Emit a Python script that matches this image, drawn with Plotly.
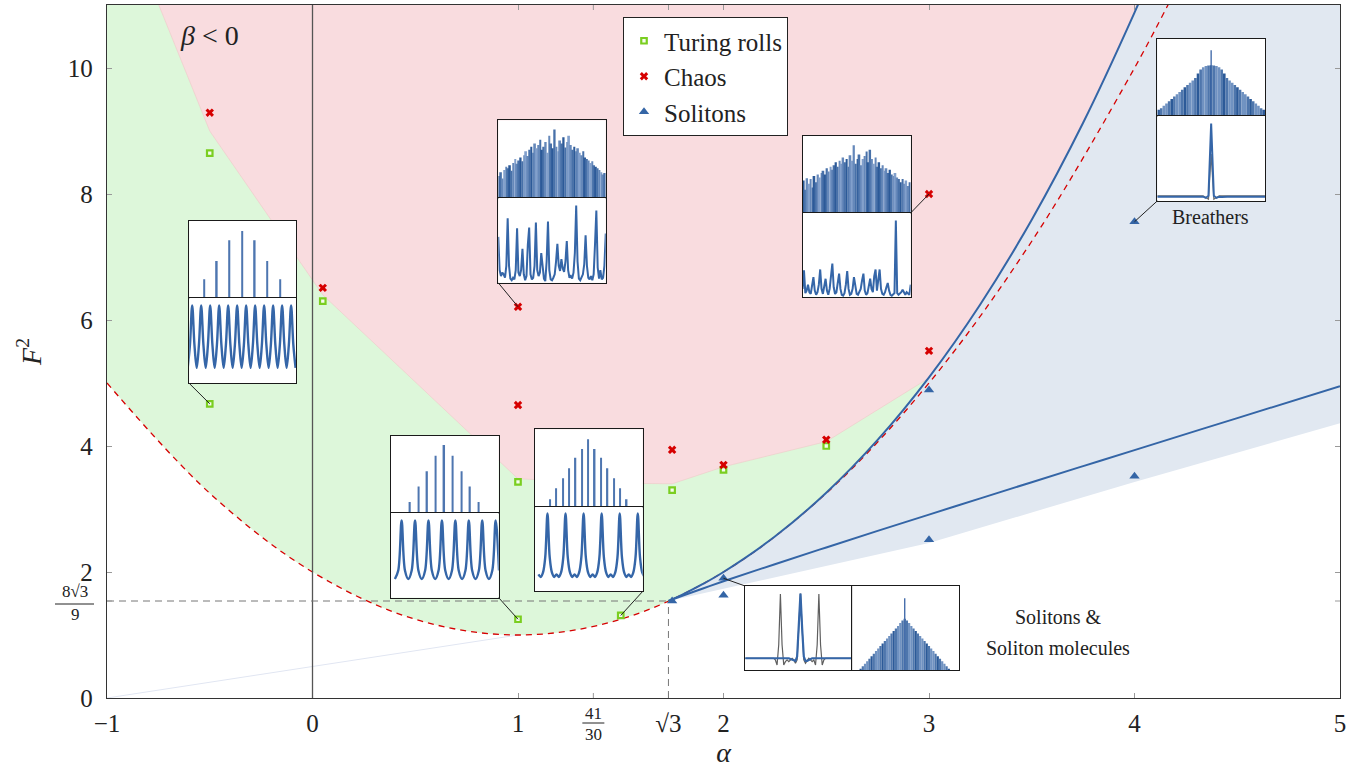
import math
import plotly.graph_objects as go

# ---------------- main data ----------------
turing_alpha = [-0.5, -0.5, 0.05, 1.0, 1.0, 1.5, 1.75, 2.0, 2.5]
turing_F2 = [8.65, 4.67, 6.30, 3.43, 1.25, 1.31, 3.30, 3.62, 4.00]
chaos_alpha = [-0.5, 0.05, 1.0, 1.0, 1.75, 2.0, 2.5, 3.0, 3.0]
chaos_F2 = [9.29, 6.51, 6.21, 4.65, 3.94, 3.70, 4.10, 8.00, 5.51]
soliton_alpha = [1.75, 2.0, 2.0, 3.0, 3.0, 4.0, 4.0]
soliton_F2 = [1.54, 1.90, 1.63, 2.51, 4.89, 7.56, 3.52]

# red dashed threshold curve
parab_alpha = [-1.0, -0.5, 0.0, 0.5, 1.0, 1.5, 2.0, 2.5, 3.0, 3.5, 4.0, 4.2]
parab_F2 = [5.0, 3.25, 2.0, 1.25, 1.0, 1.25, 2.0, 3.25, 5.0, 7.25, 10.0, 11.24]
# blue solid bistability curves
upper_alpha = [1.732, 1.75, 1.8, 1.9, 2.0, 2.25, 2.5, 2.75, 3.0, 3.25, 3.5, 3.75, 4.0, 4.1]
upper_F2 = [1.540, 1.565, 1.641, 1.810, 2.000, 2.563, 3.258, 4.096, 5.089, 6.250, 7.593, 9.132, 10.880, 11.640]
lower_alpha = [1.732, 1.75, 1.8, 1.9, 2.0, 2.25, 2.5, 2.75, 3.0, 3.25, 3.5, 3.75, 4.0, 4.5, 5.0]
lower_F2 = [1.540, 1.563, 1.623, 1.739, 1.852, 2.124, 2.390, 2.652, 2.911, 3.169, 3.425, 3.681, 3.935, 4.443, 4.949]
# region boundaries
chaos_edge_alpha = [-0.748, -0.5, 0.05, 1.0, 1.5, 1.75, 2.0, 2.5, 3.0]
chaos_edge_F2 = [11.0, 9.0, 6.4, 3.48, 3.41, 3.40, 3.67, 4.07, 5.08]
shade_alpha = [1.732, 3.0, 4.0, 5.0]
shade_F2 = [1.54, 2.46, 3.43, 4.36]
faint_alpha = [-1.0, 1.0]
faint_F2 = [0.0, 1.0]

CUSP_A = math.sqrt(3)
CUSP_F = 8 * math.sqrt(3) / 9
x_tickvals = [-1, 0, 1, CUSP_A, 2, 3, 4, 5]
x_ticktext = ["−1", "0", "1", "√3", "2", "3", "4", "5"]
y_tickvals = [0, 2, 4, 6, 8, 10]
y_ticktext = ["0", "2", "4", "6", "8", "10"]
x_frac_tick = 41 / 30
x_frac_parts = ["41", "30"]
y_frac_tick = CUSP_F
y_frac_parts = ["8√3", "9"]

# ---------------- inset data ----------------
A_mode = [-3, -2, -1, 0, 1, 2, 3]
A_amp = [0.24, 0.48, 0.75, 0.87, 0.75, 0.48, 0.24]
A_wave = [0.18, 0.45, 0.91, 0.45, 0.18, 0.45, 0.91, 0.45, 0.18, 0.45, 0.91, 0.45,
          0.18, 0.45, 0.91, 0.45, 0.18, 0.45, 0.91, 0.45, 0.18, 0.45, 0.91, 0.45,
          0.18, 0.45, 0.91, 0.45, 0.18, 0.45, 0.91, 0.45, 0.18, 0.45, 0.91, 0.45,
          0.18, 0.45, 0.91, 0.45, 0.18, 0.45, 0.91, 0.45, 0.18, 0.45, 0.91, 0.45, 0.18]

B_mode = [-4, -3, -2, -1, 0, 1, 2, 3, 4]
B_amp = [0.14, 0.34, 0.54, 0.74, 0.88, 0.74, 0.54, 0.34, 0.14]
B_wave = [0.22, 0.32, 0.91, 0.32, 0.22, 0.32, 0.91, 0.32, 0.22, 0.32, 0.91, 0.32,
          0.22, 0.32, 0.91, 0.32, 0.22, 0.32, 0.91, 0.32, 0.22, 0.32, 0.91, 0.32,
          0.22, 0.32, 0.91, 0.32, 0.22, 0.32, 0.91, 0.32]

C_mode = [-6, -5, -4, -3, -2, -1, 0, 1, 2, 3, 4, 5, 6]
C_amp = [0.095, 0.237, 0.366, 0.496, 0.634, 0.746, 0.871, 0.746, 0.634, 0.496, 0.366, 0.237, 0.095]
C_wave = [0.20, 0.17, 0.22, 0.40, 0.92, 0.40, 0.22, 0.17, 0.20, 0.17, 0.22, 0.40, 0.92, 0.40, 0.22, 0.17,
          0.20, 0.17, 0.22, 0.40, 0.92, 0.40, 0.22, 0.17, 0.20, 0.17, 0.22, 0.40, 0.92, 0.40, 0.22, 0.17,
          0.20, 0.17, 0.22, 0.40, 0.92, 0.40, 0.22, 0.17, 0.20, 0.17, 0.22, 0.40, 0.92, 0.40, 0.22, 0.17]

D_spec = [0.28, 0.33, 0.25, 0.36, 0.40, 0.38, 0.42, 0.35, 0.45, 0.50, 0.44, 0.48, 0.52, 0.47, 0.55,
          0.60, 0.54, 0.62, 0.66, 0.58, 0.70, 0.64, 0.68, 0.75, 0.62, 0.66, 0.72, 0.58, 0.80, 0.70,
          0.64, 0.88, 0.66, 0.60, 0.74, 0.70, 0.78, 0.65, 0.72, 0.80, 0.68, 0.62, 0.66, 0.60, 0.64,
          0.58, 0.55, 0.60, 0.52, 0.50, 0.48, 0.45, 0.47, 0.42, 0.40, 0.38, 0.36, 0.33, 0.30, 0.32]
D_wave = [0.54, 0.15, 0.08, 0.12, 0.10, 0.06, 0.20, 0.76, 0.20, 0.05, 0.03, 0.06, 0.04, 0.15, 0.64,
          0.12, 0.08, 0.15, 0.40, 0.10, 0.03, 0.08, 0.45, 0.65, 0.10, 0.04, 0.06, 0.20, 0.71, 0.15,
          0.08, 0.12, 0.35, 0.18, 0.05, 0.02, 0.25, 0.72, 0.15, 0.04, 0.03, 0.06, 0.10, 0.25, 0.46,
          0.20, 0.14, 0.28, 0.17, 0.13, 0.25, 0.49, 0.15, 0.06, 0.08, 0.05, 0.12, 0.35, 0.91, 0.25,
          0.05, 0.03, 0.06, 0.10, 0.22, 0.56, 0.20, 0.06, 0.04, 0.08, 0.03, 0.10, 0.45, 0.85, 0.18,
          0.05, 0.15, 0.04, 0.06, 0.20, 0.58]

E_spec = [0.42, 0.30, 0.45, 0.38, 0.44, 0.33, 0.48, 0.40, 0.50, 0.46, 0.52, 0.55, 0.50, 0.58, 0.54,
          0.60, 0.56, 0.62, 0.66, 0.60, 0.68, 0.64, 0.72, 0.66, 0.70, 0.60, 0.75, 0.68, 0.88, 0.64,
          0.70, 0.76, 0.62, 0.70, 0.74, 0.80, 0.66, 0.82, 0.70, 0.64, 0.72, 0.60, 0.66, 0.58, 0.62,
          0.55, 0.58, 0.52, 0.56, 0.50, 0.48, 0.52, 0.46, 0.44, 0.40, 0.44, 0.38, 0.42, 0.35, 0.40]
E_wave = [0.10, 0.32, 0.05, 0.08, 0.15, 0.06, 0.04, 0.12, 0.24, 0.08, 0.03, 0.06, 0.15, 0.33, 0.10,
          0.04, 0.12, 0.22, 0.08, 0.03, 0.10, 0.30, 0.40, 0.12, 0.04, 0.06, 0.18, 0.28, 0.10, 0.03,
          0.02, 0.05, 0.15, 0.31, 0.10, 0.03, 0.04, 0.10, 0.24, 0.12, 0.04, 0.03, 0.06, 0.10, 0.20,
          0.28, 0.08, 0.03, 0.05, 0.12, 0.22, 0.10, 0.06, 0.25, 0.33, 0.08, 0.20, 0.33, 0.10, 0.04,
          0.03, 0.06, 0.12, 0.17, 0.08, 0.03, 0.02, 0.03, 0.05, 0.91, 0.05, 0.03, 0.04, 0.06, 0.09,
          0.05, 0.03, 0.06, 0.04, 0.03, 0.15]

F_spec = [0.08, 0.10, 0.13, 0.16, 0.19, 0.22, 0.25, 0.28, 0.31, 0.34, 0.37, 0.40, 0.43, 0.46, 0.49,
          0.55, 0.60, 0.63, 0.645, 0.652, 0.655, 0.652, 0.645, 0.63, 0.60, 0.55, 0.49, 0.46, 0.43,
          0.40, 0.37, 0.34, 0.31, 0.28, 0.25, 0.22, 0.19, 0.16, 0.13, 0.10, 0.08]
F_spike = 0.85
F_wave_blue = [0.05, 0.05, 0.05, 0.05, 0.05, 0.05, 0.05, 0.05, 0.05, 0.05, 0.05, 0.05, 0.05, 0.05,
               0.05, 0.05, 0.045, 0.05, 0.035, 0.06, 0.91, 0.06, 0.035, 0.05, 0.045, 0.05, 0.05,
               0.05, 0.05, 0.05, 0.05, 0.05, 0.05, 0.05, 0.05, 0.05, 0.05, 0.05, 0.05, 0.05, 0.05]
F_wave_gray = [0.06, 0.06, 0.06, 0.06, 0.06, 0.06, 0.06, 0.06, 0.06, 0.06, 0.06, 0.06, 0.06, 0.06,
               0.06, 0.06, 0.06, 0.06, 0.04, 0.02, 0.55, 0.02, 0.04, 0.06, 0.06, 0.06, 0.06, 0.06,
               0.06, 0.06, 0.06, 0.06, 0.06, 0.06, 0.06, 0.06, 0.06, 0.06, 0.06, 0.06, 0.06]

G_wave_gray = [0.14, 0.14, 0.14, 0.14, 0.14, 0.14, 0.14, 0.14, 0.14, 0.14, 0.14, 0.14, 0.14, 0.14,
               0.14, 0.14, 0.14, 0.14, 0.12, 0.06, 0.30, 0.905, 0.30, 0.06, 0.10, 0.12, 0.10, 0.12,
               0.14, 0.12, 0.08, 0.12, 0.50, 0.91, 0.50, 0.12, 0.08, 0.12, 0.14, 0.12, 0.10, 0.12,
               0.06, 0.30, 0.905, 0.30, 0.06, 0.12, 0.14, 0.14, 0.14, 0.14, 0.14, 0.14, 0.14, 0.14,
               0.14, 0.14, 0.14, 0.14, 0.14, 0.14, 0.14, 0.14, 0.14]
G_wave_blue = [0.14, 0.14, 0.14, 0.14, 0.14, 0.14, 0.14, 0.14, 0.14, 0.14, 0.14, 0.14, 0.14, 0.14,
               0.14, 0.14, 0.14, 0.14, 0.14, 0.14, 0.14, 0.14, 0.14, 0.14, 0.14, 0.14, 0.14, 0.13,
               0.12, 0.11, 0.11, 0.16, 0.50, 0.91, 0.50, 0.16, 0.11, 0.11, 0.12, 0.13, 0.14, 0.14,
               0.14, 0.14, 0.14, 0.14, 0.14, 0.14, 0.14, 0.14, 0.14, 0.14, 0.14, 0.14, 0.14, 0.14,
               0.14, 0.14, 0.14, 0.14, 0.14, 0.14, 0.14, 0.14, 0.14]
G_spec = [0.015, 0.045, 0.075, 0.105, 0.135, 0.165, 0.195, 0.225, 0.255, 0.285, 0.315, 0.345, 0.375,
          0.405, 0.435, 0.465, 0.495, 0.525, 0.56, 0.59, 0.61, 0.59, 0.56, 0.525, 0.495, 0.465, 0.435,
          0.405, 0.375, 0.345, 0.315, 0.285, 0.255, 0.225, 0.195, 0.165, 0.135, 0.105, 0.075, 0.045, 0.015]
G_spike = 0.853

# ---------------- styles / layout constants ----------------
FONT = "Liberation Serif"
XMIN, XMAX, YMIN, YMAX = -1.0, 5.0, 0.0, 11.0
TOP = 11.6
PINK = "rgb(249,220,223)"
GREEN = "rgb(221,247,218)"
BLUEFILL = "rgb(225,232,241)"
BLUE = "rgb(52,101,166)"
RED = "rgb(214,0,0)"
LIME = "rgb(122,206,32)"
WAVE = "rgb(53,102,168)"
TICKCOL = "#999"
W_PLOT, H_PLOT = 1233.0, 693.0

def px(a):
    return (a - XMIN) / (XMAX - XMIN)

def py(f):
    return (f - YMIN) / (YMAX - YMIN)

def band_colors(n, period):
    out = []
    for i in range(n):
        t = (i % period) / period
        k = abs(2 * t - 1)
        r = int(44 + (130 - 44) * (1 - k))
        g = int(90 + (160 - 90) * (1 - k))
        b = int(152 + (204 - 152) * (1 - k))
        out.append(f"rgb({r},{g},{b})")
    return out

fig = go.Figure()
nolegend = dict(showlegend=False, hoverinfo="skip")

# --- green region (above threshold curve)
fig.add_trace(go.Scatter(x=parab_alpha, y=parab_F2, mode="lines", line=dict(width=0, shape="spline"), **nolegend))
fig.add_trace(go.Scatter(x=[parab_alpha[0], parab_alpha[-1]], y=[TOP, TOP], mode="lines",
                         line=dict(width=0), fill="tonexty", fillcolor=GREEN, **nolegend))
# --- pink chaos region
fig.add_trace(go.Scatter(x=chaos_edge_alpha + [XMAX, XMAX, chaos_edge_alpha[0]],
                         y=chaos_edge_F2 + [chaos_edge_F2[-1], TOP, TOP], mode="lines",
                         line=dict(width=0.6, color="rgb(240,200,200)"), fill="toself", fillcolor=PINK, **nolegend))
# --- blue soliton region
fig.add_trace(go.Scatter(x=upper_alpha, y=upper_F2, mode="lines", line=dict(width=0, shape="spline"), **nolegend))
fig.add_trace(go.Scatter(x=shade_alpha + [XMAX], y=shade_F2 + [TOP], mode="lines",
                         line=dict(width=0), fill="tonexty", fillcolor=BLUEFILL, **nolegend))
fig.add_trace(go.Scatter(x=faint_alpha, y=faint_F2, mode="lines", line=dict(width=1, color="rgb(225,230,242)"), **nolegend))
# --- curves
fig.add_trace(go.Scatter(x=parab_alpha, y=parab_F2, mode="lines",
                         line=dict(width=1.3, color=RED, dash="6px,5px", shape="spline"), **nolegend))
fig.add_trace(go.Scatter(x=upper_alpha, y=upper_F2, mode="lines", line=dict(width=2, color=BLUE, shape="spline"), **nolegend))
fig.add_trace(go.Scatter(x=lower_alpha, y=lower_F2, mode="lines", line=dict(width=2, color=BLUE, shape="spline"), **nolegend))
# --- markers
fig.add_trace(go.Scatter(x=turing_alpha, y=turing_F2, mode="markers", name="Turing rolls",
                         marker=dict(symbol="square", size=5.5, color="rgb(245,252,240)", line=dict(color=LIME, width=2.2))))
fig.add_trace(go.Scatter(x=chaos_alpha, y=chaos_F2, mode="markers", name="Chaos",
                         marker=dict(symbol="x", size=7.5, color=RED, line=dict(width=0))))
fig.add_trace(go.Scatter(x=soliton_alpha, y=soliton_F2, mode="markers", name="Solitons",
                         marker=dict(symbol="triangle-up", size=9, color=BLUE, line=dict(width=0))))

# ---------------- insets ----------------
INSETS = {
    "A": dict(a=(-0.600, -0.079), f=(4.995, 7.571), split=6.354, target=(turing_alpha[1], turing_F2[1]), corner=(-0.600, 4.995)),
    "B": dict(a=(0.380, 0.906), f=(1.592, 4.164), split=2.94, target=(turing_alpha[4], turing_F2[4]), corner=(0.906, 1.592)),
    "C": dict(a=(1.083, 1.607), f=(1.693, 4.265), split=3.037, target=(turing_alpha[5], turing_F2[5]), corner=(1.607, 1.693)),
    "D": dict(a=(0.904, 1.427), f=(6.59, 9.17), split=7.94, target=(chaos_alpha[2], chaos_F2[2]), corner=(0.904, 6.59)),
    "E": dict(a=(2.385, 2.911), f=(6.36, 8.92), split=7.70, target=(chaos_alpha[7], chaos_F2[7]), corner=(2.911, 7.70)),
    "F": dict(a=(4.111, 4.635), f=(7.89, 10.465), split=9.24, target=(soliton_alpha[5], soliton_F2[5]), corner=(4.111, 7.89)),
}
G_BOX = dict(a=(2.105, 2.626, 3.146), f=(0.444, 1.778), target=(soliton_alpha[1], soliton_F2[1]), corner=(2.105, 1.778))

axis_common = dict(showline=True, mirror=True, linecolor="#1a1a1a", linewidth=1.3, showgrid=False,
                   zeroline=False, showticklabels=False, ticks="", fixedrange=True)
layout_axes = {}
counter = [1]

def new_panel(a0, a1, f0, f1, xr, yr=(0, 1)):
    counter[0] += 1
    i = counter[0]
    layout_axes[f"xaxis{i}"] = dict(domain=[px(a0), px(a1)], anchor=f"y{i}", range=list(xr), **axis_common)
    layout_axes[f"yaxis{i}"] = dict(domain=[py(f0), py(f1)], anchor=f"x{i}", range=list(yr), **axis_common)
    return f"x{i}", f"y{i}"

def stems(modes, amps, xa, ya, width):
    fig.add_trace(go.Bar(x=modes, y=amps, width=width, marker=dict(color="rgb(78,118,176)", line=dict(width=0)),
                         xaxis=xa, yaxis=ya, **nolegend))

def wave(vals, xa, ya, color=WAVE, width=2.4, shape="spline"):
    fig.add_trace(go.Scatter(x=list(range(len(vals))), y=vals, mode="lines",
                             line=dict(color=color, width=width, shape=shape), xaxis=xa, yaxis=ya, **nolegend))

def striped(vals, xa, ya, period):
    fig.add_trace(go.Bar(x=list(range(len(vals))), y=vals, width=1.0,
                         marker=dict(color=band_colors(len(vals), period), line=dict(width=0)),
                         xaxis=xa, yaxis=ya, **nolegend))

def spike(n, h, xa, ya):
    c = (n - 1) / 2
    fig.add_trace(go.Scatter(x=[c, c], y=[0, h], mode="lines", line=dict(color="rgb(70,110,172)", width=1.4),
                             xaxis=xa, yaxis=ya, **nolegend))

# A
b = INSETS["A"]
xa, ya = new_panel(b["a"][0], b["a"][1], b["split"], b["f"][1], (-4.19, 4.28)); stems(A_mode, A_amp, xa, ya, 0.12)
xa, ya = new_panel(b["a"][0], b["a"][1], b["f"][0], b["split"], (0.67, 48.3)); wave(A_wave, xa, ya)
# B
b = INSETS["B"]
xa, ya = new_panel(b["a"][0], b["a"][1], b["split"], b["f"][1], (-6.26, 6.34)); stems(B_mode, B_amp, xa, ya, 0.17)
xa, ya = new_panel(b["a"][0], b["a"][1], b["f"][0], b["split"], (-1.28, 30.9)); wave(B_wave, xa, ya)
# C
b = INSETS["C"]
xa, ya = new_panel(b["a"][0], b["a"][1], b["split"], b["f"][1], (-8.33, 8.5)); stems(C_mode, C_amp, xa, ya, 0.22)
xa, ya = new_panel(b["a"][0], b["a"][1], b["f"][0], b["split"], (-1.5, 46.2)); wave(C_wave, xa, ya)
# D
b = INSETS["D"]
xa, ya = new_panel(b["a"][0], b["a"][1], b["split"], b["f"][1], (-0.5, len(D_spec) - 0.5)); striped(D_spec, xa, ya, 6)
xa, ya = new_panel(b["a"][0], b["a"][1], b["f"][0], b["split"], (0, len(D_wave) - 1)); wave(D_wave, xa, ya, width=2, shape="linear")
# E
b = INSETS["E"]
xa, ya = new_panel(b["a"][0], b["a"][1], b["split"], b["f"][1], (-0.5, len(E_spec) - 0.5)); striped(E_spec, xa, ya, 6)
xa, ya = new_panel(b["a"][0], b["a"][1], b["f"][0], b["split"], (0, len(E_wave) - 1)); wave(E_wave, xa, ya, width=2, shape="linear")
# F
b = INSETS["F"]
xa, ya = new_panel(b["a"][0], b["a"][1], b["split"], b["f"][1], (-0.5, len(F_spec) - 0.5))
striped(F_spec, xa, ya, 5); spike(len(F_spec), F_spike, xa, ya)
xa, ya = new_panel(b["a"][0], b["a"][1], b["f"][0], b["split"], (0, len(F_wave_blue) - 1))
wave(F_wave_gray, xa, ya, color="rgb(110,110,110)", width=1.2, shape="linear")
wave(F_wave_blue, xa, ya, width=2, shape="linear")
# G
xa, ya = new_panel(G_BOX["a"][0], G_BOX["a"][1], G_BOX["f"][0], G_BOX["f"][1], (-0.12, 63.9))
wave(G_wave_gray, xa, ya, color="rgb(95,95,95)", width=1.2, shape="linear")
wave(G_wave_blue, xa, ya, width=2.2, shape="linear")
xa, ya = new_panel(G_BOX["a"][1], G_BOX["a"][2], G_BOX["f"][0], G_BOX["f"][1], (-3.84, 44.62))
striped(G_spec, xa, ya, 5); spike(len(G_spec), G_spike, xa, ya)

# ---------------- shapes ----------------
shapes = [
    dict(type="line", xref="x", yref="y", x0=0, x1=0, y0=YMIN, y1=YMAX, line=dict(color="#555", width=1.3), layer="above"),
    dict(type="line", xref="x", yref="y", x0=XMIN, x1=CUSP_A, y0=CUSP_F, y1=CUSP_F,
         line=dict(color="#777", width=1, dash="7px,5px"), layer="above"),
    dict(type="line", xref="x", yref="y", x0=CUSP_A, x1=CUSP_A, y0=YMIN, y1=CUSP_F,
         line=dict(color="#777", width=1, dash="7px,5px"), layer="above"),
]
for b in list(INSETS.values()) + [G_BOX]:
    shapes.append(dict(type="line", xref="x", yref="y", x0=b["corner"][0], y0=b["corner"][1],
                       x1=b["target"][0], y1=b["target"][1], line=dict(color="#222", width=1), layer="above"))
# tick marks for the two fraction ticks (inside, on both sides like the other ticks)
for anchor_y, y0, y1 in ((0, 0, 5), (1, -5, 0)):
    shapes.append(dict(type="line", xref="x", yref="paper", x0=x_frac_tick, x1=x_frac_tick,
                       ysizemode="pixel", yanchor=anchor_y, y0=y0, y1=y1, line=dict(color=TICKCOL, width=1), layer="above"))
for anchor_x, x0, x1 in ((0, 0, 5), (1, -5, 0)):
    shapes.append(dict(type="line", xref="paper", yref="y", y0=y_frac_tick, y1=y_frac_tick,
                       xsizemode="pixel", xanchor=anchor_x, x0=x0, x1=x1, line=dict(color=TICKCOL, width=1), layer="above"))
# fraction bars of the tick labels
shapes.append(dict(type="line", xref="paper", yref="paper", x0=px(x_frac_tick) - 11 / W_PLOT, x1=px(x_frac_tick) + 11 / W_PLOT,
                   y0=-25 / H_PLOT, y1=-25 / H_PLOT, line=dict(color="#222", width=1)))
shapes.append(dict(type="line", xref="paper", yref="paper", x0=-52 / W_PLOT, x1=-13 / W_PLOT,
                   y0=py(y_frac_tick) - 3 / H_PLOT, y1=py(y_frac_tick) - 3 / H_PLOT, line=dict(color="#222", width=1)))

txt = dict(family=FONT, color="#222")
frac = dict(showarrow=False, xanchor="center", yanchor="middle", font=dict(size=17, **txt))
annotations = [
    dict(x=x_frac_tick, y=0, xref="x", yref="paper", text=x_frac_parts[0], yshift=-15, **frac),
    dict(x=x_frac_tick, y=0, xref="x", yref="paper", text=x_frac_parts[1], yshift=-36, **frac),
    dict(x=-32 / W_PLOT, y=y_frac_tick, xref="paper", yref="y", text=y_frac_parts[0], yshift=9.5, **frac),
    dict(x=-32 / W_PLOT, y=y_frac_tick, xref="paper", yref="y", text=y_frac_parts[1], yshift=-13, **frac),
    dict(x=-0.499, y=10.51, xref="x", yref="y", text="<i>β</i> < 0", showarrow=False, font=dict(size=28, **txt)),
    dict(x=4.372, y=7.635, xref="x", yref="y", text="Breathers", showarrow=False, font=dict(size=20, **txt)),
    dict(x=3.628, y=1.286, xref="x", yref="y", text="Solitons &amp;", showarrow=False, font=dict(size=20, **txt)),
    dict(x=3.628, y=0.794, xref="x", yref="y", text="Soliton molecules", showarrow=False, font=dict(size=20, **txt)),
]

fig.update_layout(
    width=1362, height=778,
    margin=dict(l=107, r=22, t=5, b=80),
    paper_bgcolor="white", plot_bgcolor="white",
    font=dict(family=FONT, color="#222"),
    hovermode=False,
    xaxis=dict(range=[XMIN, XMAX], tickvals=x_tickvals, ticktext=x_ticktext, ticks="inside", ticklen=5,
               tickcolor=TICKCOL, showline=True, linecolor="#333", linewidth=1.3, mirror="ticks",
               showgrid=False, zeroline=False, tickfont=dict(size=25), ticklabelstandoff=3,
               title=dict(text="<i>α</i>", font=dict(size=28), standoff=0)),
    yaxis=dict(range=[YMIN, YMAX], tickvals=y_tickvals, ticktext=y_ticktext, ticks="inside", ticklen=5,
               tickcolor=TICKCOL, showline=True, linecolor="#333", linewidth=1.3, mirror="ticks",
               showgrid=False, zeroline=False, tickfont=dict(size=25), ticklabelstandoff=8,
               title=dict(text="<i>F</i><sup>2</sup>", font=dict(size=28), standoff=18)),
    legend=dict(x=(623 - 107) / W_PLOT, y=(698 - 17) / H_PLOT, xanchor="left", yanchor="top",
                traceorder="normal", bgcolor="white", bordercolor="#222", borderwidth=1,
                font=dict(size=25), tracegroupgap=0),
    shapes=shapes, annotations=annotations,
    **layout_axes,
)

fig.write_html("out.html", config={"displayModeBar": False},
               post_script="document.body.style.margin='0px';")
